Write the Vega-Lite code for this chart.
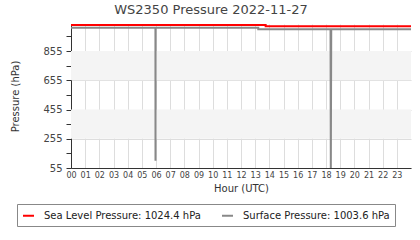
{
  "$schema": "https://vega.github.io/schema/vega-lite/v6.json",
  "autosize": {"type": "none"},
  "padding": {"left": 71, "top": 24, "right": 9, "bottom": 72},
  "width": 340,
  "height": 144,
  "background": "white",
  "title": {"text": "WS2350 Pressure 2022-11-27", "fontSize": 13, "font": "DejaVu Sans", "fontWeight": "normal", "color": "#444", "anchor": "middle", "frame": "bounds", "offset": 7},
  "datasets": {
    "bands": [{"lo": 255, "hi": 455}, {"lo": 655, "hi": 855}],
    "pressure": [
      {"i": 0, "hour": 0, "p": 1034, "series": "Sea Level Pressure: 1024.4 hPa"},
      {"i": 1, "hour": 13.74, "p": 1034, "series": "Sea Level Pressure: 1024.4 hPa"},
      {"i": 2, "hour": 13.74, "p": 1024.4, "series": "Sea Level Pressure: 1024.4 hPa"},
      {"i": 3, "hour": 24, "p": 1024.4, "series": "Sea Level Pressure: 1024.4 hPa"},
      {"i": 10, "hour": 0, "p": 1013.5, "series": "Surface Pressure: 1003.6 hPa"},
      {"i": 11, "hour": 5.96, "p": 1013.5, "series": "Surface Pressure: 1003.6 hPa"},
      {"i": 12, "hour": 5.965, "p": 105, "series": "Surface Pressure: 1003.6 hPa"},
      {"i": 13, "hour": 5.97, "p": 1013.5, "series": "Surface Pressure: 1003.6 hPa"},
      {"i": 14, "hour": 13.22, "p": 1013.5, "series": "Surface Pressure: 1003.6 hPa"},
      {"i": 15, "hour": 13.22, "p": 1003.6, "series": "Surface Pressure: 1003.6 hPa"},
      {"i": 16, "hour": 18.32, "p": 1003.6, "series": "Surface Pressure: 1003.6 hPa"},
      {"i": 17, "hour": 18.34, "p": 55, "series": "Surface Pressure: 1003.6 hPa"},
      {"i": 18, "hour": 18.37, "p": 1003.6, "series": "Surface Pressure: 1003.6 hPa"},
      {"i": 19, "hour": 24, "p": 1003.6, "series": "Surface Pressure: 1003.6 hPa"}
    ]
  },
  "layer": [
    {
      "data": {"name": "bands"},
      "mark": {"type": "rect", "color": "#f4f4f4"},
      "encoding": {
        "y": {
          "field": "lo", "type": "quantitative", "scale": {"domain": [55, 1040], "nice": false, "zero": false},
          "axis": {
            "title": "Pressure (hPa)",
            "values": [55,155,255,355,455,555,655,755,855,955],
            "labelExpr": "(datum.value - 55) % 200 === 0 ? datum.label : ''",
            "format": "d",
            "labelFontSize": 10, "labelFont": "DejaVu Sans", "labelColor": "#444", "labelPadding": 4,
            "labelFlush": false, "labelOverlap": false,
            "tickSize": 5, "tickColor": "#333", "domainColor": "#333",
            "grid": true, "gridColor": "#dddddd",
            "gridOpacity": {"condition": {"test": "(datum.value - 55) % 200 === 0", "value": 1}, "value": 0},
            "titleFontSize": 10, "titleFont": "DejaVu Sans", "titleFontWeight": "normal", "titleColor": "#333", "titlePadding": 22
          }
        },
        "y2": {"field": "hi"}
      }
    },
    {
      "data": {"name": "pressure"},
      "mark": {"type": "line", "strokeWidth": 2, "clip": true},
      "encoding": {
        "x": {
          "field": "hour", "type": "quantitative",
          "scale": {"domain": [0, 24], "nice": false, "zero": false},
          "axis": {
            "title": "Hour (UTC)",
            "values": [0,1,2,3,4,5,6,7,8,9,10,11,12,13,14,15,16,17,18,19,20,21,22,23],
            "labelExpr": "datum.value < 10 ? '0' + datum.value : '' + datum.value",
            "labelFontSize": 8, "labelFont": "DejaVu Sans", "labelColor": "#444", "labelPadding": 3,
            "labelFlush": false, "labelOverlap": false,
            "ticks": false, "domainColor": "#333", "domainWidth": 1,
            "grid": true, "gridColor": "#dddddd", "gridWidth": 1,
            "titleFontSize": 10, "titleFont": "DejaVu Sans", "titleFontWeight": "normal", "titleColor": "#333", "titlePadding": 4
          }
        },
        "y": {
          "field": "p", "type": "quantitative",
          "scale": {"domain": [55, 1040], "nice": false, "zero": false},
          "axis": {
            "title": "Pressure (hPa)",
            "values": [55,155,255,355,455,555,655,755,855,955],
            "labelExpr": "(datum.value - 55) % 200 === 0 ? datum.label : ''",
            "format": "d",
            "labelFontSize": 10, "labelFont": "DejaVu Sans", "labelColor": "#444", "labelPadding": 4,
            "labelFlush": false, "labelOverlap": false,
            "tickSize": 5, "tickColor": "#333", "domainColor": "#333",
            "grid": true, "gridColor": "#dddddd",
            "gridOpacity": {"condition": {"test": "(datum.value - 55) % 200 === 0", "value": 1}, "value": 0},
            "titleFontSize": 10, "titleFont": "DejaVu Sans", "titleFontWeight": "normal", "titleColor": "#333", "titlePadding": 22
          }
        },
        "color": {
          "field": "series", "type": "nominal",
          "scale": {"domain": ["Sea Level Pressure: 1024.4 hPa", "Surface Pressure: 1003.6 hPa"], "range": ["#ff0000", "#888888"]},
          "legend": {
            "title": null, "orient": "none", "legendX": -54, "legendY": 180, "direction": "horizontal",
            "strokeColor": "#888", "padding": 5, "symbolType": "stroke", "symbolStrokeWidth": 2, "symbolSize": 121,
            "labelFontSize": 10, "labelFont": "DejaVu Sans", "labelColor": "#222", "labelOffset": 9, "columnPadding": 17, "labelLimit": 300
          }
        },
        "order": {"field": "i", "type": "quantitative"}
      }
    }
  ],
  "config": {"view": {"stroke": null}}
}
